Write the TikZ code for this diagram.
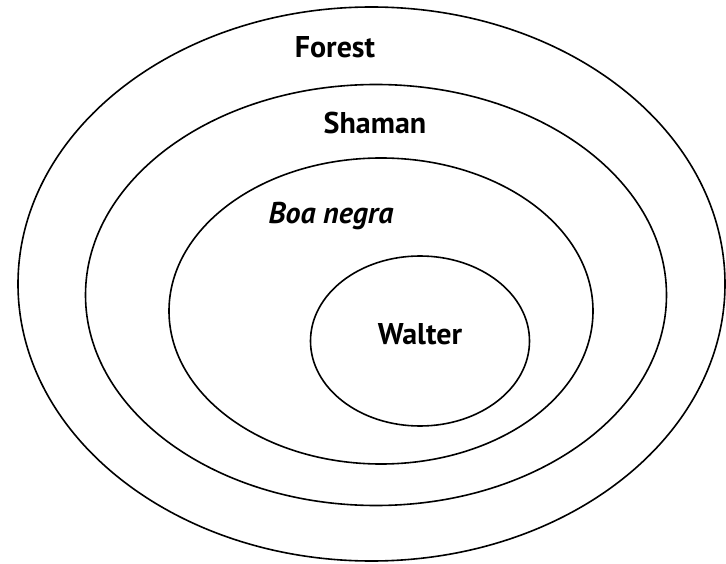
\documentclass[tikz,border=0pt]{standalone}
\usepackage{fontspec}
\setmainfont{PT Sans}
\usetikzlibrary{shapes.geometric}
\begin{document}
\begin{tikzpicture}[x=1pt,y=-1pt,
  ring/.style={ellipse,draw=black,line width=1.6pt,inner sep=0pt},
  lab/.style={font=\fontsize{30}{34}\selectfont\bfseries,inner sep=0pt,anchor=center}]
\useasboundingbox (0,0) rectangle (726,564);
\node[ring,minimum width=707pt,minimum height=554pt] (forest) at (371.5,284) {};
\node[ring,minimum width=581pt,minimum height=421pt] (shaman) at (376,295) {};
\node[ring,minimum width=424pt,minimum height=306pt] (boa) at (381,311) {};
\node[ring,minimum width=219pt,minimum height=170pt] (walter) at (420,341) {};
\node[lab] (tforest) at (335,47) {Forest};
\node[lab] (tshaman) at (375,123) {Shaman};
\node[lab,font=\fontsize{30}{34}\selectfont\bfseries\itshape] (tboa) at (331,216) {Boa negra};
\node[lab] (twalter) at (420,334) {Walter};
\end{tikzpicture}
\end{document}
